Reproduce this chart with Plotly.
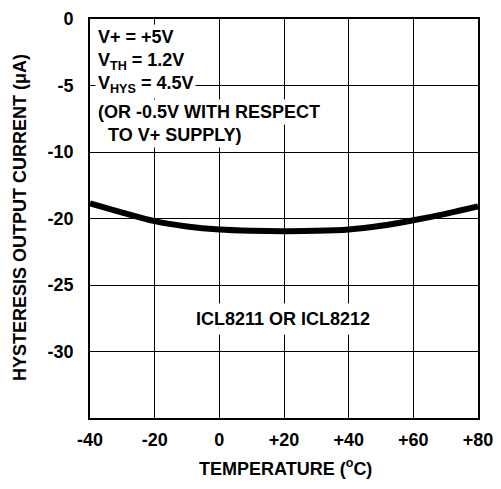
import plotly.graph_objects as go

# Data
temperature_c = [-40, -30, -20, -10, 0, 10, 20, 30, 40, 50, 60, 70, 80]
hyst_current_ua = [-18.87, -19.55, -20.2, -20.6, -20.83, -20.92, -20.95, -20.93, -20.83, -20.55, -20.13, -19.65, -19.1]

x_ticks = [-40, -20, 0, 20, 40, 60, 80]
x_labels = ["-40", "-20", "0", "+20", "+40", "+60", "+80"]
# evenly spaced gridlines as drawn; labels exactly as printed in the reference
y_ticks = [-5, -10, -15, -20, -25, -30]
y_labels = ["0", "-5", "-10", "-20", "-25", "-30"]

FONT = "Liberation Sans, Arial, sans-serif"
fs = 18

# the page body has an 8px margin; work in page pixel coordinates and shift
OFF = 8
W, H = 501 - 2 * OFF, 489 - 2 * OFF
L, R, T, B = 90 - OFF, 478 - OFF, 19 - OFF, 418 - OFF


def px(xp):
    return (xp - OFF - L) / (R - L)


def py(yp):
    return (B - (yp - OFF)) / (B - T)


fig = go.Figure()
fig.add_trace(go.Scatter(
    x=temperature_c, y=hyst_current_ua, mode="lines",
    line=dict(color="black", width=6, shape="spline", smoothing=0.8),
    showlegend=False, hoverinfo="skip"))

axis_common = dict(showgrid=True, gridcolor="black", gridwidth=1.4,
                   showline=True, linecolor="black", linewidth=1.6, mirror=True,
                   zeroline=False, ticks="", automargin=False,
                   ticklabeloverflow="allow",
                   tickfont=dict(family=FONT, size=fs, color="black", weight="bold"))

fig.update_xaxes(range=[-40, 80], tickvals=x_ticks, ticktext=x_labels,
                 ticklabelstandoff=5, **axis_common)
fig.update_yaxes(range=[-35, -5], tickvals=y_ticks, ticktext=y_labels,
                 ticklabelstandoff=11, **axis_common)

bold = dict(family=FONT, size=fs, color="black", weight="bold")
notes = [
    ("V+ = +5V", 95, 37),
    ("V<sub>TH</sub> = 1.2V", 95, 61),
    ("V<sub>HYS</sub> = 4.5V", 95, 84),
    ("(OR -0.5V WITH RESPECT", 95, 112),
    ("\u00a0\u00a0TO V+ SUPPLY)", 95, 135),
]
for txt, xp, yp in notes:
    fig.add_annotation(text=txt, xref="paper", yref="paper", x=px(xp), y=py(yp),
                       xanchor="left", yanchor="middle", showarrow=False,
                       font=bold, bgcolor="white", borderpad=2, align="left")

fig.add_annotation(text="ICL8211 OR ICL8212", xref="paper", yref="paper",
                   x=px(283), y=py(319), xanchor="center", yanchor="middle",
                   showarrow=False, font=bold, bgcolor="white", borderpad=5)

fig.add_annotation(text="HYSTERESIS OUTPUT CURRENT (\u03bcA)", xref="paper", yref="paper",
                   x=px(20), y=py(218), xanchor="center", yanchor="middle",
                   textangle=-90, showarrow=False, font=bold)
fig.add_annotation(text="TEMPERATURE (<sup>o</sup>C)", xref="paper", yref="paper",
                   x=px(285), y=py(467), xanchor="center", yanchor="middle",
                   showarrow=False, font=bold)

fig.update_layout(width=W, height=H, margin=dict(l=L, r=W - R, t=T, b=H - B),
                  paper_bgcolor="white", plot_bgcolor="white")
fig.write_html("out.html")
